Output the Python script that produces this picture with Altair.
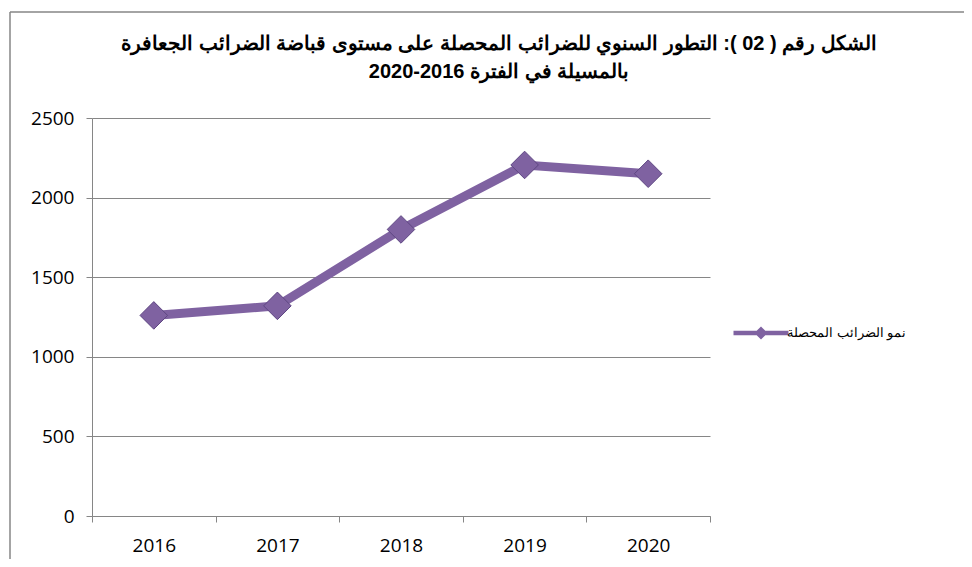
import altair as alt
import pandas as pd

years = ["2016", "2017", "2018", "2019", "2020"]
values = [1260, 1320, 1800, 2205, 2150]
series_name = "نمو الضرائب المحصلة"
title_lines = [
    "الشكل رقم ( 02 ): التطور السنوي للضرائب المحصلة على مستوى قباضة الضرائب الجعافرة",
    "بالمسيلة في الفترة 2016-2020",
]
y_ticks = [0, 500, 1000, 1500, 2000, 2500]

PURPLE = "#7F62A1"
DARK = "#5E4682"
GRID = "#868686"

df = pd.DataFrame({"year": years, "value": values, "series": [series_name] * len(years)})

W, H = 618, 398

x_enc = alt.X(
    "year:O",
    bandPosition=0.5,
    scale=alt.Scale(type="band", paddingInner=0, paddingOuter=0),
    axis=alt.Axis(
        title=None, labelAngle=0, tickBand="extent", grid=False,
        domainColor=GRID, tickColor=GRID, tickSize=6, labelPadding=14,
        labelFont="Open Sans", labelFontSize=19, labelColor="#000000",
    ),
)
y_enc = alt.Y(
    "value:Q",
    scale=alt.Scale(domain=[0, 2500], nice=False),
    axis=alt.Axis(
        title=None, values=y_ticks, format="d", grid=True, gridColor=GRID,
        domainColor=GRID, tickColor=GRID, tickSize=6, labelPadding=12,
        labelFont="Open Sans", labelFontSize=19, labelColor="#000000",
    ),
)

base = alt.Chart(df)

line = base.mark_line(color=PURPLE, strokeWidth=9).encode(x=x_enc, y=y_enc)

legend_symbol = ("M-2.5,-0.2 L2.5,-0.2 L2.5,0.2 L-2.5,0.2 Z "
                 "M0,-0.6 L0.6,0 L0,0.6 L-0.6,0 Z")

points = base.mark_point(
    shape="diamond", filled=True, size=760, opacity=1,
    stroke=DARK, strokeWidth=1,
).encode(
    x=x_enc,
    y=y_enc,
    color=alt.Color(
        "series:N",
        scale=alt.Scale(range=[PURPLE]),
        legend=alt.Legend(
            title=None, orient="none", legendX=658, legendY=204,
            symbolType=legend_symbol, symbolSize=484, symbolStrokeWidth=0,
            labelOffset=15, labelFont="Liberation Sans", labelFontSize=13,
            labelColor="#000000", labelLimit=300,
        ),
    ),
)

frame_df = pd.DataFrame({"a": [0]})
frame_left = alt.Chart(frame_df).mark_rule(color=GRID, strokeWidth=1.5).encode(
    x=alt.value(-82), y=alt.value(-106), y2=alt.value(H + 50)
)
frame_top = alt.Chart(frame_df).mark_rule(color=GRID, strokeWidth=1.5).encode(
    x=alt.value(-82), x2=alt.value(W + 300), y=alt.value(-106)
)

chart = alt.layer(frame_left, frame_top, line, points).properties(
    width=W,
    height=H,
    title=alt.Title(
        text=title_lines, font="Liberation Sans", fontSize=20, fontWeight="bold",
        color="#000000", dx=98, offset=-71, lineHeight=28, anchor="middle",
    ),
    autosize=alt.AutoSizeParams(type="none"),
    padding={"left": 84, "top": 110, "right": 254, "bottom": 43},
).configure_view(stroke=None)

chart.save("out.html", embed_options={"renderer": "svg", "actions": False})
